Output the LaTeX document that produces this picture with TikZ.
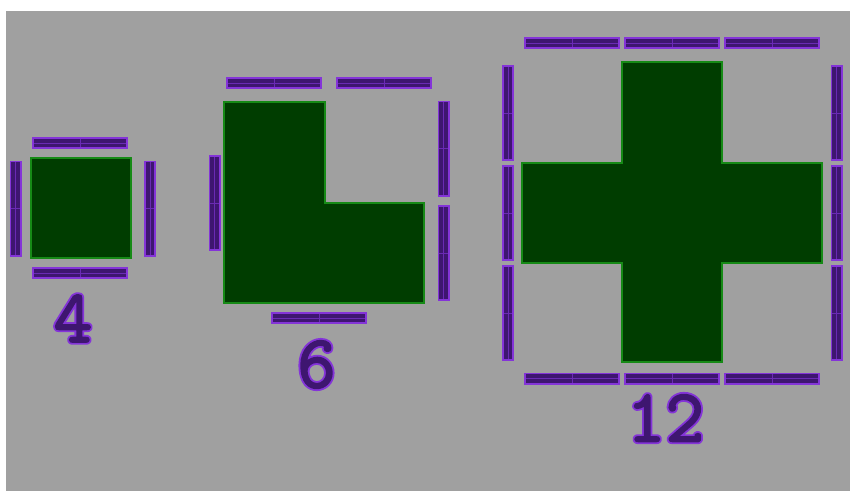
\documentclass[tikz,border=0pt]{standalone}
\usepackage{fontspec}
\definecolor{bggray}{HTML}{A0A0A0}
\definecolor{stickdark}{HTML}{3E1670}
\definecolor{sticklight}{HTML}{8434D8}
\definecolor{stickmid}{HTML}{6A2AB4}
\definecolor{tiledark}{HTML}{003D00}
\definecolor{tileedge}{HTML}{168A16}
\tikzset{
  tile/.style={fill=tiledark, draw=tileedge, line width=2pt, line join=miter},
  hstick/.pic={
    \fill[stickdark] (-48,-6) rectangle (48,6);
    \draw[stickmid, line width=0.8pt] (-47,0) -- (47,0) (0,-5.5) -- (0,5.5);
    \draw[sticklight, line width=1.6pt] (-47.2,-5.2) rectangle (47.2,5.2);
  },
  vstick/.pic={
    \fill[stickdark] (-6,-48) rectangle (6,48);
    \draw[stickmid, line width=0.8pt] (0,-47) -- (0,47) (-5.5,0) -- (5.5,0);
    \draw[sticklight, line width=1.6pt] (-5.2,-47.2) rectangle (5.2,47.2);
  },
  numtxt/.style={font=\fontsize{75}{80}\selectfont\ttfamily, inner sep=0pt, text=stickdark},
}
% light outline layer underneath, dark glyph on top
\newcommand{\strokedtext}[1]{%
  \rlap{\special{pdf:code q 2 Tr 5.5 w 1 j 0.518 0.204 0.847 rg 0.518 0.204 0.847 RG}#1\special{pdf:code Q}}%
  \special{pdf:code q 2 Tr 1.8 w 1 j 0.243 0.086 0.439 rg 0.243 0.086 0.439 RG}#1\special{pdf:code Q}}
\begin{document}
\begin{tikzpicture}[x=1pt, y=-1pt]
\useasboundingbox (0,0) rectangle (850,491);
\fill[white] (0,0) rectangle (850,491);
\fill[bggray] (6,11) rectangle (850,491);

% shape 1: square
\draw[tile] (30.5,158) rectangle (130.5,258);
\pic at (80,143) {hstick};
\pic at (80,273) {hstick};
\pic at (15.5,208.5) {vstick};
\pic at (150,208.5) {vstick};
\node[numtxt] (n4) at (73,318.5) {\strokedtext{4}};

% shape 2: L
\draw[tile] (224,102) -- (325,102) -- (325,203) -- (424,203) -- (424,303) -- (224,303) -- cycle;
\pic at (274,83) {hstick};
\pic at (384,83) {hstick};
\pic at (443.5,148.5) {vstick};
\pic at (443.5,253) {vstick};
\pic at (214.5,203) {vstick};
\pic at (319,318) {hstick};
\node[numtxt] (n6) at (316.5,364.5) {\strokedtext{6}};

% shape 3: cross
\draw[tile] (622,62) -- (722,62) -- (722,162.5) -- (822,162.5) -- (822,263) -- (722,263) -- (722,362) -- (622,362) -- (622,263) -- (522,263) -- (522,162.5) -- (622,162.5) -- cycle;
\foreach \cx in {572,672,772}{
  \pic at (\cx,43) {hstick};
  \pic at (\cx,378.5) {hstick};
}
\foreach \cy in {113,213,313}{
  \pic at (508,\cy) {vstick};
  \pic at (836.5,\cy) {vstick};
}
\node[numtxt] (n12) at (665.5,418) {\strokedtext{12}};
\end{tikzpicture}
\end{document}
